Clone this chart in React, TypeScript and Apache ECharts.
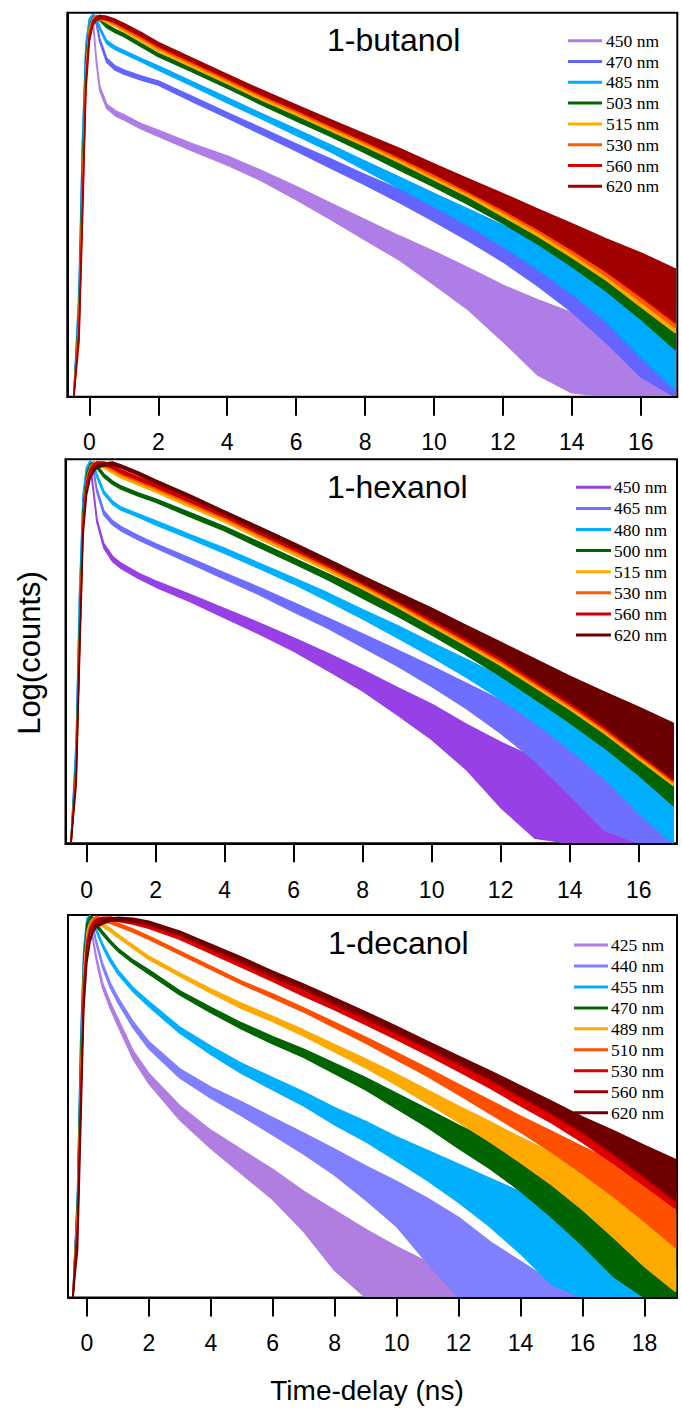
import { useEffect, useRef } from "react";
import * as echarts from "echarts";

// ---------- time grids (ns) ----------
const BUT_T = [-0.45, -0.3, -0.2, -0.1, 0, 0.1, 0.2, 0.3, 0.5, 0.75, 1, 1.5, 2, 3, 4, 5, 6, 7, 8, 9, 10, 11, 12, 13, 14, 15, 16, 17];
const HEX_T = [-0.45, -0.3, -0.2, -0.1, 0, 0.1, 0.2, 0.3, 0.5, 0.75, 1, 1.5, 2, 3, 4, 5, 6, 7, 8, 9, 10, 11, 12, 13, 14, 15, 16, 17];
const DEC_T = [-0.45, -0.3, -0.2, -0.1, 0, 0.1, 0.2, 0.3, 0.5, 0.75, 1, 1.5, 2, 3, 4, 5, 6, 7, 8, 9, 10, 11, 12, 13, 14, 15, 16, 17, 18, 19];

// ---------- tick labels ----------
const BUT_TICKS = [0, 2, 4, 6, 8, 10, 12, 14, 16];
const HEX_TICKS = [0, 2, 4, 6, 8, 10, 12, 14, 16];
const DEC_TICKS = [0, 2, 4, 6, 8, 10, 12, 14, 16, 18];

// ---------- 1-butanol: log(counts) centre values and noise-band widths ----------
const but450 = [0, 0.97, 2.47, 3.47, 3.75, 3.8, 3.37, 3.09, 2.91, 2.84, 2.8, 2.71, 2.64, 2.5, 2.37, 2.22, 2.05, 1.87, 1.69, 1.51, 1.32, 1.12, 0.89, 0.67, 0.52, 0.42, 0.35, 0.29];
const but450s = [0.03, 0.03, 0.03, 0.03, 0.03, 0.03, 0.03, 0.04, 0.04, 0.05, 0.05, 0.05, 0.06, 0.07, 0.09, 0.1, 0.13, 0.16, 0.2, 0.24, 0.33, 0.42, 0.56, 0.75, 0.8, 0.8, 0.75, 0.7];
const but470 = [0, 0.97, 2.47, 3.47, 3.75, 3.81, 3.75, 3.57, 3.37, 3.29, 3.25, 3.19, 3.14, 2.98, 2.82, 2.66, 2.5, 2.34, 2.18, 2.02, 1.85, 1.68, 1.5, 1.31, 1.1, 0.87, 0.62, 0.42];
const but470s = [0.03, 0.03, 0.03, 0.03, 0.03, 0.03, 0.03, 0.03, 0.04, 0.04, 0.04, 0.04, 0.04, 0.05, 0.05, 0.06, 0.07, 0.09, 0.1, 0.13, 0.16, 0.2, 0.25, 0.33, 0.42, 0.55, 0.7, 0.75];
const but485 = [0, 1.07, 2.57, 3.52, 3.77, 3.81, 3.79, 3.69, 3.55, 3.49, 3.45, 3.37, 3.29, 3.13, 2.97, 2.81, 2.65, 2.49, 2.32, 2.15, 1.98, 1.81, 1.63, 1.44, 1.24, 1.02, 0.77, 0.52];
const but485s = [0.03, 0.03, 0.03, 0.03, 0.03, 0.03, 0.03, 0.03, 0.03, 0.03, 0.03, 0.03, 0.04, 0.04, 0.05, 0.05, 0.06, 0.07, 0.09, 0.11, 0.13, 0.16, 0.21, 0.27, 0.35, 0.45, 0.62, 0.75];
const but503 = [0, 0.87, 2.27, 3.37, 3.69, 3.78, 3.8, 3.78, 3.71, 3.66, 3.62, 3.52, 3.42, 3.27, 3.11, 2.95, 2.79, 2.64, 2.48, 2.32, 2.16, 2.0, 1.83, 1.65, 1.46, 1.26, 1.04, 0.82];
const but503s = [0.03, 0.03, 0.03, 0.03, 0.03, 0.03, 0.03, 0.03, 0.03, 0.03, 0.03, 0.03, 0.03, 0.04, 0.04, 0.05, 0.05, 0.06, 0.07, 0.09, 0.1, 0.13, 0.16, 0.2, 0.26, 0.34, 0.44, 0.58];
const but515 = [0, 0.77, 2.07, 3.27, 3.67, 3.77, 3.8, 3.79, 3.76, 3.72, 3.67, 3.57, 3.47, 3.31, 3.15, 2.99, 2.84, 2.69, 2.54, 2.39, 2.23, 2.07, 1.9, 1.73, 1.55, 1.37, 1.17, 0.97];
const but515s = [0.03, 0.03, 0.03, 0.03, 0.03, 0.03, 0.03, 0.03, 0.03, 0.03, 0.03, 0.03, 0.03, 0.03, 0.03, 0.04, 0.04, 0.05, 0.06, 0.08, 0.1, 0.12, 0.16, 0.2, 0.26, 0.34, 0.45, 0.55];
const but530 = [0, 0.72, 2.02, 3.22, 3.64, 3.76, 3.79, 3.79, 3.78, 3.74, 3.69, 3.6, 3.5, 3.34, 3.18, 3.02, 2.87, 2.72, 2.57, 2.42, 2.26, 2.1, 1.94, 1.77, 1.59, 1.41, 1.22, 1.02];
const but530s = [0.03, 0.03, 0.03, 0.03, 0.03, 0.03, 0.03, 0.03, 0.03, 0.03, 0.03, 0.03, 0.03, 0.03, 0.03, 0.04, 0.04, 0.05, 0.06, 0.08, 0.1, 0.12, 0.16, 0.2, 0.26, 0.34, 0.45, 0.55];
const but560 = [0, 0.67, 1.92, 3.17, 3.61, 3.75, 3.79, 3.8, 3.79, 3.76, 3.71, 3.62, 3.52, 3.36, 3.2, 3.04, 2.89, 2.74, 2.59, 2.44, 2.28, 2.12, 1.96, 1.79, 1.62, 1.44, 1.25, 1.05];
const but560s = [0.03, 0.03, 0.03, 0.03, 0.03, 0.03, 0.03, 0.03, 0.03, 0.03, 0.03, 0.03, 0.03, 0.03, 0.03, 0.04, 0.04, 0.05, 0.06, 0.08, 0.09, 0.12, 0.15, 0.19, 0.25, 0.32, 0.42, 0.52];
const but620 = [0, 0.57, 1.77, 3.07, 3.57, 3.73, 3.78, 3.8, 3.79, 3.76, 3.72, 3.63, 3.53, 3.37, 3.21, 3.05, 2.9, 2.75, 2.6, 2.45, 2.29, 2.13, 1.97, 1.8, 1.63, 1.45, 1.27, 1.07];
const but620s = [0.03, 0.03, 0.03, 0.03, 0.03, 0.03, 0.03, 0.03, 0.03, 0.03, 0.03, 0.03, 0.03, 0.03, 0.03, 0.04, 0.04, 0.05, 0.06, 0.08, 0.09, 0.12, 0.15, 0.19, 0.25, 0.32, 0.42, 0.52];

// ---------- 1-hexanol ----------
const hex450 = [0, 0.93, 2.43, 3.43, 3.73, 3.8, 3.53, 3.23, 2.98, 2.85, 2.78, 2.68, 2.6, 2.46, 2.31, 2.16, 2.0, 1.83, 1.65, 1.45, 1.25, 1.01, 0.75, 0.53, 0.38, 0.28, 0.23, 0.18];
const hex450s = [0.03, 0.03, 0.03, 0.03, 0.03, 0.03, 0.03, 0.03, 0.04, 0.05, 0.05, 0.05, 0.06, 0.07, 0.09, 0.11, 0.13, 0.17, 0.21, 0.27, 0.35, 0.45, 0.65, 0.8, 0.8, 0.75, 0.7, 0.65];
const hex465 = [0, 0.93, 2.43, 3.43, 3.73, 3.81, 3.73, 3.53, 3.31, 3.21, 3.15, 3.06, 2.98, 2.83, 2.68, 2.53, 2.37, 2.21, 2.04, 1.87, 1.69, 1.5, 1.3, 1.08, 0.83, 0.58, 0.38, 0.28];
const hex465s = [0.03, 0.03, 0.03, 0.03, 0.03, 0.03, 0.03, 0.03, 0.04, 0.04, 0.04, 0.04, 0.04, 0.05, 0.06, 0.07, 0.09, 0.1, 0.13, 0.16, 0.2, 0.25, 0.33, 0.43, 0.58, 0.75, 0.8, 0.75];
const hex480 = [0, 1.03, 2.53, 3.48, 3.75, 3.81, 3.78, 3.68, 3.51, 3.41, 3.35, 3.28, 3.21, 3.07, 2.93, 2.78, 2.63, 2.47, 2.3, 2.13, 1.95, 1.77, 1.58, 1.38, 1.17, 0.95, 0.71, 0.48];
const hex480s = [0.03, 0.03, 0.03, 0.03, 0.03, 0.03, 0.03, 0.03, 0.03, 0.03, 0.03, 0.03, 0.04, 0.04, 0.05, 0.05, 0.06, 0.08, 0.09, 0.12, 0.14, 0.18, 0.23, 0.29, 0.38, 0.5, 0.68, 0.8];
const hex500 = [0, 0.83, 2.23, 3.33, 3.68, 3.78, 3.8, 3.77, 3.68, 3.61, 3.56, 3.49, 3.43, 3.29, 3.15, 2.99, 2.83, 2.67, 2.5, 2.33, 2.15, 1.97, 1.78, 1.58, 1.38, 1.18, 0.97, 0.75];
const hex500s = [0.03, 0.03, 0.03, 0.03, 0.03, 0.03, 0.03, 0.03, 0.03, 0.03, 0.03, 0.03, 0.03, 0.04, 0.04, 0.05, 0.05, 0.06, 0.08, 0.09, 0.11, 0.14, 0.18, 0.23, 0.29, 0.37, 0.48, 0.62];
const hex515 = [0, 0.73, 2.03, 3.23, 3.63, 3.75, 3.79, 3.8, 3.77, 3.72, 3.67, 3.6, 3.53, 3.38, 3.23, 3.07, 2.91, 2.75, 2.58, 2.41, 2.23, 2.05, 1.87, 1.68, 1.49, 1.3, 1.11, 0.91];
const hex515s = [0.03, 0.03, 0.03, 0.03, 0.03, 0.03, 0.03, 0.03, 0.03, 0.03, 0.03, 0.03, 0.03, 0.03, 0.03, 0.04, 0.04, 0.05, 0.06, 0.08, 0.1, 0.12, 0.15, 0.2, 0.25, 0.33, 0.45, 0.55];
const hex530 = [0, 0.75, 2.05, 3.23, 3.62, 3.74, 3.79, 3.8, 3.79, 3.75, 3.7, 3.63, 3.56, 3.41, 3.26, 3.1, 2.94, 2.78, 2.61, 2.44, 2.26, 2.08, 1.9, 1.71, 1.52, 1.33, 1.14, 0.94];
const hex530s = [0.03, 0.03, 0.03, 0.03, 0.03, 0.03, 0.03, 0.03, 0.03, 0.03, 0.03, 0.03, 0.03, 0.03, 0.03, 0.04, 0.04, 0.05, 0.06, 0.08, 0.1, 0.12, 0.15, 0.2, 0.25, 0.33, 0.45, 0.55];
const hex560 = [0, 0.7, 2.0, 3.2, 3.6, 3.73, 3.78, 3.8, 3.8, 3.77, 3.72, 3.65, 3.58, 3.43, 3.28, 3.12, 2.96, 2.8, 2.63, 2.46, 2.28, 2.1, 1.92, 1.73, 1.54, 1.35, 1.16, 0.96];
const hex560s = [0.03, 0.03, 0.03, 0.03, 0.03, 0.03, 0.03, 0.03, 0.03, 0.03, 0.03, 0.03, 0.03, 0.03, 0.03, 0.04, 0.04, 0.05, 0.06, 0.08, 0.1, 0.12, 0.15, 0.2, 0.25, 0.33, 0.45, 0.55];
const hex620 = [0, 0.6, 1.9, 3.1, 3.5, 3.66, 3.73, 3.77, 3.79, 3.8, 3.77, 3.7, 3.62, 3.47, 3.31, 3.15, 2.99, 2.82, 2.65, 2.48, 2.31, 2.13, 1.95, 1.76, 1.57, 1.38, 1.18, 0.98];
const hex620s = [0.03, 0.03, 0.03, 0.03, 0.03, 0.03, 0.03, 0.03, 0.03, 0.03, 0.03, 0.03, 0.03, 0.03, 0.03, 0.04, 0.04, 0.05, 0.06, 0.08, 0.1, 0.12, 0.15, 0.2, 0.25, 0.33, 0.45, 0.55];

// ---------- 1-decanol ----------
const dec425 = [0, 0.98, 2.48, 3.38, 3.73, 3.78, 3.58, 3.4, 3.13, 2.93, 2.76, 2.43, 2.2, 1.86, 1.6, 1.38, 1.16, 0.9, 0.63, 0.4, 0.26, 0.16, 0.08, 0, 0, 0, 0, 0, 0, 0];
const dec425s = [0.03, 0.03, 0.03, 0.03, 0.03, 0.03, 0.03, 0.04, 0.05, 0.06, 0.07, 0.08, 0.1, 0.14, 0.18, 0.24, 0.3, 0.4, 0.6, 0.7, 0.62, 0.48, 0.3, 0, 0, 0, 0, 0, 0, 0];
const dec440 = [0, 1.03, 2.53, 3.43, 3.76, 3.8, 3.7, 3.56, 3.33, 3.13, 2.98, 2.73, 2.53, 2.25, 2.06, 1.9, 1.73, 1.56, 1.38, 1.18, 0.98, 0.73, 0.48, 0.3, 0.18, 0.08, 0, 0, 0, 0];
const dec440s = [0.03, 0.03, 0.03, 0.03, 0.03, 0.03, 0.03, 0.03, 0.04, 0.05, 0.05, 0.06, 0.07, 0.09, 0.11, 0.14, 0.17, 0.21, 0.26, 0.34, 0.45, 0.65, 0.8, 0.65, 0.45, 0.2, 0, 0, 0, 0];
const dec455 = [0, 1.08, 2.58, 3.48, 3.78, 3.81, 3.76, 3.68, 3.53, 3.38, 3.26, 3.08, 2.94, 2.68, 2.48, 2.3, 2.15, 2.0, 1.83, 1.68, 1.51, 1.35, 1.18, 1.0, 0.81, 0.6, 0.4, 0.26, 0.16, 0.1];
const dec455s = [0.03, 0.03, 0.03, 0.03, 0.03, 0.03, 0.03, 0.03, 0.03, 0.04, 0.04, 0.04, 0.05, 0.06, 0.08, 0.1, 0.12, 0.14, 0.17, 0.2, 0.24, 0.3, 0.38, 0.48, 0.62, 0.78, 0.8, 0.7, 0.55, 0.45];
const dec470 = [0, 0.98, 2.38, 3.38, 3.73, 3.8, 3.79, 3.73, 3.65, 3.56, 3.48, 3.36, 3.26, 3.05, 2.88, 2.72, 2.58, 2.45, 2.3, 2.15, 1.98, 1.81, 1.63, 1.46, 1.28, 1.08, 0.88, 0.66, 0.43, 0.3];
const dec470s = [0.03, 0.03, 0.03, 0.03, 0.03, 0.03, 0.03, 0.03, 0.03, 0.03, 0.03, 0.03, 0.04, 0.04, 0.05, 0.06, 0.07, 0.08, 0.1, 0.12, 0.15, 0.18, 0.23, 0.28, 0.36, 0.46, 0.6, 0.75, 0.8, 0.75];
const dec489 = [0, 0.88, 2.18, 3.28, 3.63, 3.74, 3.78, 3.78, 3.73, 3.68, 3.62, 3.51, 3.4, 3.23, 3.07, 2.92, 2.79, 2.65, 2.5, 2.35, 2.19, 2.02, 1.85, 1.68, 1.5, 1.32, 1.13, 0.93, 0.73, 0.53];
const dec489s = [0.03, 0.03, 0.03, 0.03, 0.03, 0.03, 0.03, 0.03, 0.03, 0.03, 0.03, 0.03, 0.03, 0.03, 0.04, 0.05, 0.05, 0.06, 0.07, 0.09, 0.11, 0.13, 0.16, 0.2, 0.25, 0.32, 0.42, 0.55, 0.7, 0.78];
const dec510 = [0, 0.83, 2.08, 3.18, 3.58, 3.72, 3.77, 3.8, 3.78, 3.76, 3.73, 3.67, 3.6, 3.45, 3.3, 3.15, 3.02, 2.88, 2.73, 2.58, 2.42, 2.26, 2.09, 1.92, 1.75, 1.58, 1.4, 1.22, 1.03, 0.85];
const dec510s = [0.03, 0.03, 0.03, 0.03, 0.03, 0.03, 0.03, 0.03, 0.03, 0.03, 0.03, 0.03, 0.03, 0.03, 0.03, 0.03, 0.04, 0.04, 0.05, 0.06, 0.07, 0.08, 0.1, 0.13, 0.16, 0.21, 0.27, 0.35, 0.45, 0.58];
const dec530 = [0, 0.73, 1.98, 3.08, 3.53, 3.68, 3.74, 3.77, 3.79, 3.79, 3.78, 3.75, 3.71, 3.6, 3.46, 3.32, 3.18, 3.04, 2.9, 2.76, 2.61, 2.46, 2.31, 2.15, 1.99, 1.83, 1.66, 1.48, 1.3, 1.12];
const dec530s = [0.03, 0.03, 0.03, 0.03, 0.03, 0.03, 0.03, 0.03, 0.03, 0.03, 0.03, 0.03, 0.03, 0.03, 0.03, 0.03, 0.03, 0.04, 0.04, 0.05, 0.05, 0.06, 0.08, 0.09, 0.12, 0.14, 0.18, 0.23, 0.3, 0.38];
const dec560 = [0, 0.7, 1.95, 3.05, 3.5, 3.66, 3.73, 3.76, 3.78, 3.79, 3.78, 3.77, 3.74, 3.64, 3.5, 3.36, 3.22, 3.09, 2.95, 2.81, 2.67, 2.52, 2.37, 2.22, 2.06, 1.9, 1.73, 1.56, 1.38, 1.2];
const dec560s = [0.03, 0.03, 0.03, 0.03, 0.03, 0.03, 0.03, 0.03, 0.03, 0.03, 0.03, 0.03, 0.03, 0.03, 0.03, 0.03, 0.03, 0.03, 0.04, 0.04, 0.05, 0.05, 0.06, 0.07, 0.09, 0.11, 0.14, 0.22, 0.3, 0.4];
const dec620 = [0, 0.5, 1.7, 2.9, 3.37, 3.57, 3.67, 3.72, 3.75, 3.78, 3.79, 3.78, 3.75, 3.65, 3.52, 3.39, 3.25, 3.12, 2.98, 2.84, 2.69, 2.54, 2.39, 2.24, 2.08, 1.92, 1.75, 1.58, 1.4, 1.22];
const dec620s = [0.03, 0.03, 0.03, 0.03, 0.03, 0.03, 0.03, 0.03, 0.03, 0.03, 0.03, 0.03, 0.03, 0.03, 0.03, 0.03, 0.03, 0.03, 0.04, 0.04, 0.05, 0.05, 0.06, 0.07, 0.09, 0.11, 0.14, 0.22, 0.3, 0.4];

type Curve = { name: string; color: string; values: number[]; spread: number[] };

const butanolCurves: Curve[] = [
  { name: "450 nm", color: "#af7de6", values: but450, spread: but450s },
  { name: "470 nm", color: "#6464ff", values: but470, spread: but470s },
  { name: "485 nm", color: "#00aaff", values: but485, spread: but485s },
  { name: "503 nm", color: "#006400", values: but503, spread: but503s },
  { name: "515 nm", color: "#ffaa00", values: but515, spread: but515s },
  { name: "530 nm", color: "#ff5a00", values: but530, spread: but530s },
  { name: "560 nm", color: "#dc0000", values: but560, spread: but560s },
  { name: "620 nm", color: "#a00000", values: but620, spread: but620s },
];
const hexanolCurves: Curve[] = [
  { name: "450 nm", color: "#9640e6", values: hex450, spread: hex450s },
  { name: "465 nm", color: "#6e6eff", values: hex465, spread: hex465s },
  { name: "480 nm", color: "#00b0ff", values: hex480, spread: hex480s },
  { name: "500 nm", color: "#006400", values: hex500, spread: hex500s },
  { name: "515 nm", color: "#ffaa00", values: hex515, spread: hex515s },
  { name: "530 nm", color: "#ff5a00", values: hex530, spread: hex530s },
  { name: "560 nm", color: "#d00000", values: hex560, spread: hex560s },
  { name: "620 nm", color: "#6b0000", values: hex620, spread: hex620s },
];
const decanolCurves: Curve[] = [
  { name: "425 nm", color: "#b07ee0", values: dec425, spread: dec425s },
  { name: "440 nm", color: "#8080ff", values: dec440, spread: dec440s },
  { name: "455 nm", color: "#00b0ff", values: dec455, spread: dec455s },
  { name: "470 nm", color: "#006400", values: dec470, spread: dec470s },
  { name: "489 nm", color: "#ffaa00", values: dec489, spread: dec489s },
  { name: "510 nm", color: "#ff5000", values: dec510, spread: dec510s },
  { name: "530 nm", color: "#dd0000", values: dec530, spread: dec530s },
  { name: "560 nm", color: "#a00000", values: dec560, spread: dec560s },
  { name: "620 nm", color: "#700000", values: dec620, spread: dec620s },
];

const PANELS = [
  {
    title: "1-butanol", times: BUT_T, curves: butanolCurves, ticks: BUT_TICKS,
    xMin: -0.64, xMax: 17.06, yMax: 3.84,
    grid: { left: 67.3, top: 12.7, width: 610, height: 384 },
    titleX: 327, titleY: 40, labelMargin: 33.5,
    leg: { x1: 568, x2: 602, tx: 606, y0: 40.7, dy: 20.8 },
  },
  {
    title: "1-hexanol", times: HEX_T, curves: hexanolCurves, ticks: HEX_TICKS,
    xMin: -0.61, xMax: 17.11, yMax: 3.84,
    grid: { left: 65.5, top: 459.3, width: 611.5, height: 384 },
    titleX: 327, titleY: 487, labelMargin: 35,
    leg: { x1: 576, x2: 611, tx: 614, y0: 487.3, dy: 21.1 },
  },
  {
    title: "1-decanol", times: DEC_T, curves: decanolCurves, ticks: DEC_TICKS,
    xMin: -0.61, xMax: 19.05, yMax: 3.825,
    grid: { left: 68, top: 915, width: 609, height: 382.5 },
    titleX: 328, titleY: 943, labelMargin: 34,
    leg: { x1: 574, x2: 608, tx: 611, y0: 945, dy: 20.96 },
  },
];

const FONT = "Liberation Sans";

export default function App() {
  const ref = useRef<HTMLDivElement>(null);

  useEffect(() => {
    if (!ref.current) return;
    const chart = echarts.init(ref.current, null, { renderer: "svg" });

    const grids: any[] = [];
    const xAxes: any[] = [];
    const yAxes: any[] = [];
    const series: any[] = [];
    const graphic: any[] = [];

    PANELS.forEach((p, pi) => {
      grids.push({
        ...p.grid,
        show: true,
        borderColor: "#000",
        borderWidth: 2,
        backgroundColor: "transparent",
        containLabel: false,
      });
      xAxes.push({
        type: "value",
        gridIndex: pi,
        min: p.xMin,
        max: p.xMax,
        z: 5,
        axisLine: { show: true, onZero: false, lineStyle: { color: "#000", width: 2 } },
        axisTick: {
          show: true,
          inside: false,
          length: 19,
          customValues: p.ticks,
          lineStyle: { color: "#000", width: 2 },
        },
        axisLabel: {
          show: true,
          customValues: p.ticks,
          margin: p.labelMargin,
          fontSize: 23,
          color: "#000",
          fontFamily: FONT,
        },
        splitLine: { show: false },
      });
      yAxes.push({
        type: "value",
        gridIndex: pi,
        min: 0,
        max: p.yMax,
        z: 5,
        axisLine: { show: true, onZero: false, lineStyle: { color: "#000", width: 2 } },
        axisTick: { show: false },
        axisLabel: { show: false },
        splitLine: { show: false },
      });

      p.curves.forEach((c) => {
        const times = p.times;
        series.push({
          type: "custom",
          name: p.title + " " + c.name,
          xAxisIndex: pi,
          yAxisIndex: pi,
          silent: true,
          data: times.map((t, k) => [t, c.values[k]]),
          encode: { x: 0, y: 1 },
          renderItem: (params: any, api: any) => {
            if (params.dataIndex !== 0) return null;
            const up: number[][] = [];
            const dn: number[][] = [];
            for (let k = 0; k < times.length; k++) {
              const v = c.values[k];
              if (v == null) continue;
              const s = c.spread[k] ?? 0.03;
              const hi = Math.min(p.yMax, v + 0.4 * s);
              const lo = Math.max(0, v - 0.6 * s);
              up.push(api.coord([times[k], hi]));
              dn.push(api.coord([times[k], lo]));
            }
            return {
              type: "polygon",
              shape: { points: up.concat(dn.reverse()) },
              style: { fill: c.color, stroke: c.color, lineWidth: 1.6, lineJoin: "round" },
            };
          },
        });
      });

      graphic.push({
        type: "text",
        x: p.titleX,
        y: p.titleY,
        z: 50,
        style: { text: p.title, fontSize: 32, fontFamily: FONT, fill: "#000", align: "left", verticalAlign: "middle" },
      });
      p.curves.forEach((c, i) => {
        const y = p.leg.y0 + i * p.leg.dy;
        graphic.push({
          type: "line",
          z: 50,
          shape: { x1: p.leg.x1, y1: y, x2: p.leg.x2, y2: y },
          style: { stroke: c.color, lineWidth: 3 },
        });
        graphic.push({
          type: "text",
          x: p.leg.tx,
          y,
          z: 50,
          style: { text: c.name, fontSize: 17.5, fontFamily: "Liberation Serif", fill: "#000", align: "left", verticalAlign: "middle" },
        });
      });
    });

    graphic.push({
      type: "text",
      x: 29,
      y: 653,
      rotation: Math.PI / 2,
      z: 50,
      style: { text: "Log(counts)", fontSize: 31, fontFamily: FONT, fill: "#000", align: "center", verticalAlign: "middle" },
    });
    graphic.push({
      type: "text",
      x: 367,
      y: 1390,
      z: 50,
      style: { text: "Time-delay (ns)", fontSize: 28, fontFamily: FONT, fill: "#000", align: "center", verticalAlign: "middle" },
    });

    chart.setOption({
      animation: false,
      backgroundColor: "#fff",
      textStyle: { fontFamily: FONT },
      grid: grids,
      xAxis: xAxes,
      yAxis: yAxes,
      series,
      graphic,
    });

    return () => chart.dispose();
  }, []);

  return (
    <div
      ref={ref}
      style={{ position: "absolute", left: 0, top: 0, width: 682, height: 1416 }}
    />
  );
}
